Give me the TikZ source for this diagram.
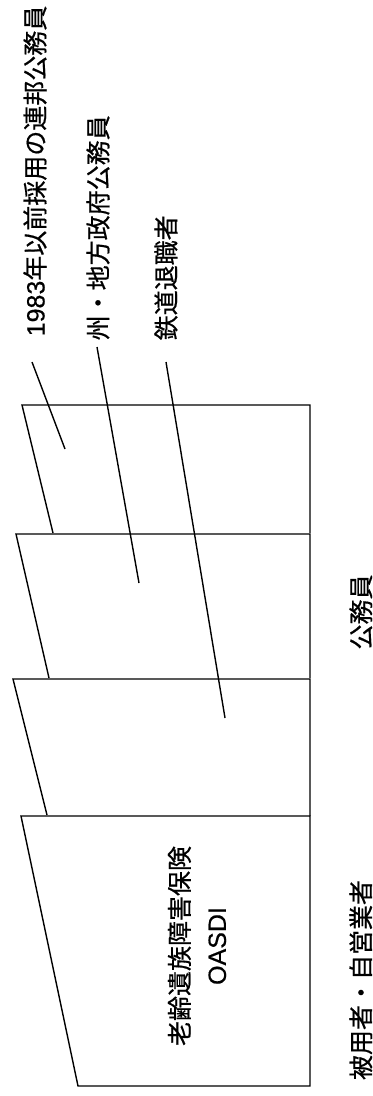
\documentclass[tikz,border=0pt]{standalone}
\usepackage{fontspec}
\setmainfont{Noto Sans CJK JP}[FakeBold=0.6]
\newfontfamily\arialfont{Liberation Sans}[FakeBold=0.5]
\usetikzlibrary{positioning}

\begin{document}
\begin{tikzpicture}[x=0.5pt, y=-0.5pt, line width=0.7pt,
    lbl/.style={rotate=90, inner sep=0pt, font=\fontsize{12.5}{15}\selectfont}]
    \useasboundingbox (0,0) rectangle (372,1096);
    \clip (0,0) rectangle (372,1096);
    % the four cards, from back to front
    \draw (53,533) -- (22,405) -- (310,405) -- (310,533);
    \draw (49,678) -- (16,534) -- (310,534) -- (310,678);
    \draw (47,815) -- (13,679) -- (310,679) -- (310,816);
    \draw (78,1086) -- (21,816) -- (310,816) -- (310,1086) -- cycle;
    \node[lbl, align=center, font=\fontsize{12.5}{18.5}\selectfont] (oasdi) at (197,946) {老齢遺族障害保険\\{\arialfont OASDI}};
    % labels above the cards
    \node[lbl, anchor=west] (fed) at (35,337) {{\arialfont 1983}年以前採用の連邦公務員};
    \node[lbl, anchor=west] (state) at (98,341) {州・地方政府公務員};
    \node[lbl, anchor=west] (rail) at (166,341) {鉄道退職者};
    \coordinate (fedtip) at (65,449);
    \coordinate (fedend) at (32,362);
    \coordinate (statetip) at (139,583);
    \coordinate (stateend) at (97,347);
    \coordinate (railtip) at (225,718);
    \coordinate (railend) at (166,362);
    \draw (fedtip) -- (fedend);
    \draw (statetip) -- (stateend);
    \draw (railtip) -- (railend);
    % labels on the right
    \node[lbl] (pub) at (361,612) {公務員};
    \node[lbl] (emp) at (361,980) {被用者・自営業者};
\end{tikzpicture}
\end{document}
